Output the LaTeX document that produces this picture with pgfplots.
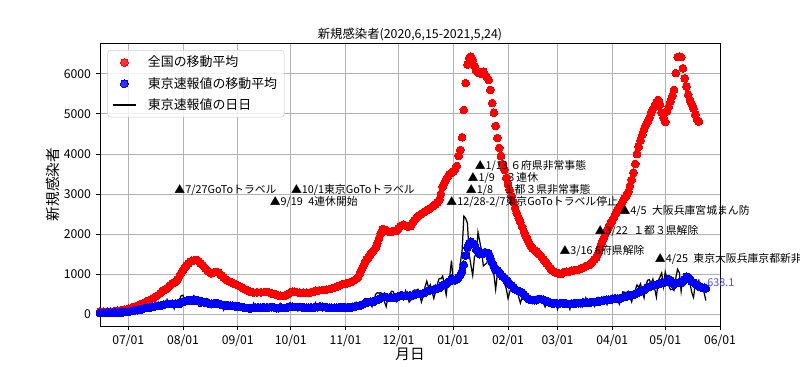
\documentclass[border=0pt]{standalone}
\usepackage{fontspec}
\setmainfont{Noto Sans CJK JP}
\usepackage{pgfplots}
\pgfplotsset{compat=1.18}
\begin{document}
\begin{tikzpicture}
\begin{axis}[
  name=ax,
  scale only axis,
  width=446.4pt, height=203.8pt,
  xmin=0, xmax=351, ymin=-300, ymax=6770,
  xtick={16,47,78,108,139,169,200,231,259,290,320,351},
  xticklabels={07/01,08/01,09/01,10/01,11/01,12/01,01/01,02/01,03/01,04/01,05/01,06/01},
  ytick={0,1000,2000,3000,4000,5000,6000},
  grid=major,
  grid style={color=black!30, line width=0.6pt},
  axis line style={black, line width=0.6pt},
  tick align=outside, xtick pos=bottom, ytick pos=left,
  major tick length=3pt,
  tick style={black, line width=0.6pt},
  tick label style={font=\fontsize{8.8}{10}\selectfont},
  /pgf/number format/assume math mode=true,
  /pgf/number format/1000 sep={},
  title={新規感染者(2020,6,15-2021,5,24)},
  title style={font=\fontsize{8.9}{10}\selectfont, yshift=-8pt},
  xlabel={月日}, ylabel={新規感染者},
  label style={font=\fontsize{10.5}{12}\selectfont},
  xlabel style={yshift=6pt},
  ylabel style={yshift=-4pt},
  legend style={at={(0.012,0.975)}, anchor=north west, draw=black!20, rounded corners=2pt,
    fill=white, fill opacity=0.8, text opacity=1, font=\fontsize{9.3}{11}\selectfont,
    cells={anchor=west}, inner xsep=3pt, inner ysep=2pt, row sep=2pt,
    /tikz/every odd column/.append style={column sep=6pt}},
]
\addplot[only marks, mark=*, mark size=2.8pt, color=red, mark options={fill=red, draw=red, line width=0pt}] coordinates {
(0,60)(2,60)(4,62)(6,66)(8,75)(10,88)(12,100)(14,112)(16,130)(18,155)(20,190)(22,225)(24,260)(26,305)(28,350)(30,400)(32,450)(34,520)(35,560)(36,590)(37,620)(38,650)(39,690)(40,730)(41,760)(42,785)(43,810)(44,870)(45,950)(46,1030)(47,1100)(48,1160)(49,1220)(50,1270)(51,1310)(52,1330)(53,1340)(54,1350)(55,1350)(56,1320)(57,1270)(58,1230)(59,1180)(60,1130)(61,1080)(62,1050)(63,1020)(64,1030)(65,1050)(66,1050)(67,1040)(68,1000)(69,960)(70,920)(71,880)(72,850)(73,820)(74,800)(75,780)(76,760)(77,740)(78,720)(79,700)(80,675)(81,650)(82,625)(83,600)(84,580)(85,560)(86,550)(87,540)(89,545)(91,545)(93,550)(95,550)(96,535)(97,520)(99,500)(100,480)(101,460)(102,455)(103,450)(104,450)(105,460)(106,490)(107,520)(108,545)(109,560)(110,555)(111,550)(113,530)(115,530)(117,530)(119,540)(121,560)(122,580)(124,590)(126,600)(128,610)(130,625)(131,640)(133,665)(134,680)(136,720)(137,740)(139,760)(140,770)(141,790)(142,800)(143,825)(144,850)(145,880)(146,920)(147,1000)(148,1100)(149,1200)(150,1300)(151,1360)(152,1420)(153,1490)(154,1550)(155,1600)(156,1650)(157,1770)(158,1900)(159,2020)(160,2120)(161,2110)(162,2100)(163,2070)(164,2050)(165,2060)(166,2070)(167,2075)(168,2080)(169,2140)(170,2200)(171,2220)(172,2230)(173,2210)(174,2190)(175,2190)(176,2200)(177,2280)(178,2350)(179,2400)(180,2450)(181,2480)(182,2500)(183,2530)(184,2560)(185,2590)(186,2620)(187,2650)(188,2680)(189,2710)(190,2740)(191,2790)(192,2850)(193,3000)(194,3180)(195,3280)(196,3380)(197,3440)(198,3500)(199,3530)(200,3560)(201,3620)(202,3700)(203,3950)(204,4100)(205,4420)(206,5100)(207,5770)(208,6230)(209,6400)(210,6430)(211,6350)(212,6200)(213,6080)(214,6030)(215,6020)(216,6000)(217,6060)(218,5980)(219,5920)(220,5850)(221,5600)(222,5270)(223,5030)(224,4700)(225,4400)(226,4150)(227,3950)(228,3750)(229,3600)(230,3400)(231,3250)(232,3100)(233,2950)(234,2800)(235,2650)(236,2520)(237,2400)(238,2300)(239,2180)(240,2060)(241,1960)(242,1860)(243,1770)(244,1700)(245,1640)(246,1600)(247,1560)(248,1520)(249,1480)(250,1430)(251,1370)(252,1320)(253,1260)(254,1200)(255,1140)(256,1090)(257,1060)(258,1040)(259,1020)(260,1010)(261,1000)(262,1030)(263,1050)(264,1060)(265,1050)(266,1070)(267,1080)(268,1090)(269,1100)(270,1100)(271,1110)(272,1130)(273,1150)(274,1170)(275,1190)(276,1210)(277,1230)(278,1270)(279,1320)(280,1370)(281,1420)(282,1520)(283,1650)(284,1760)(285,1880)(286,2000)(287,2090)(288,2170)(289,2260)(290,2340)(291,2420)(292,2510)(293,2600)(294,2680)(295,2750)(296,2820)(297,2900)(298,2960)(299,3050)(300,3200)(301,3350)(302,3530)(303,3750)(304,4000)(305,4180)(306,4340)(307,4480)(308,4620)(309,4720)(310,4800)(311,4900)(312,5030)(313,5120)(314,5180)(315,5280)(316,5350)(317,5230)(318,5030)(319,4900)(320,4800)(321,5060)(322,5180)(323,5310)(324,5450)(325,5600)(326,6020)(327,6420)(328,6430)(329,6420)(330,6140)(331,5890)(332,5680)(333,5480)(334,5350)(335,5250)(336,5140)(337,4980)(338,4850)(339,4810)
};
\addlegendentry{全国の移動平均}
\addplot[only marks, mark=*, mark size=2.8pt, color=blue, mark options={fill=blue, draw=blue, line width=0pt}] coordinates {
(0,28)(1,29)(2,28)(3,30)(4,31)(5,33)(6,34)(7,32)(8,32)(9,38)(10,39)(11,42)(12,44)(13,48)(14,52)(15,55)(16,57)(17,65)(18,75)(19,86)(20,93)(21,99)(22,107)(23,108)(24,125)(25,142)(26,152)(27,166)(28,168)(29,174)(30,187)(31,195)(32,203)(33,215)(34,212)(35,219)(36,232)(37,243)(38,254)(39,250)(40,250)(41,258)(42,252)(43,256)(44,258)(45,258)(46,287)(47,313)(48,320)(49,338)(50,344)(51,346)(52,345)(53,345)(54,339)(55,345)(56,336)(57,319)(58,313)(59,291)(60,280)(61,274)(62,264)(63,259)(64,261)(65,256)(66,275)(67,257)(68,238)(69,231)(70,222)(71,218)(72,225)(73,213)(74,208)(75,207)(76,198)(77,198)(78,197)(79,183)(80,178)(81,165)(82,155)(83,151)(84,147)(85,147)(86,149)(87,158)(88,165)(89,160)(90,164)(91,165)(92,168)(93,170)(94,155)(95,160)(96,170)(97,173)(98,175)(99,160)(100,146)(101,149)(102,156)(103,156)(104,154)(105,151)(106,165)(107,185)(108,190)(109,180)(110,179)(111,178)(112,178)(113,176)(114,174)(115,162)(116,160)(117,157)(118,157)(119,157)(120,155)(121,155)(122,174)(123,174)(124,182)(125,180)(126,180)(127,176)(128,172)(129,158)(130,158)(131,155)(132,154)(133,157)(134,160)(135,163)(136,168)(137,170)(138,170)(139,169)(140,167)(141,174)(142,167)(143,174)(144,180)(145,191)(146,202)(147,212)(148,224)(149,252)(150,269)(151,288)(152,296)(153,306)(154,309)(155,310)(156,335)(157,355)(158,376)(159,403)(160,422)(161,442)(162,426)(163,412)(164,405)(165,412)(166,415)(167,419)(168,418)(169,445)(170,459)(171,466)(172,449)(173,452)(174,461)(175,460)(176,457)(177,467)(178,477)(179,498)(180,503)(181,503)(182,504)(183,519)(184,534)(185,566)(186,576)(187,592)(188,603)(189,615)(190,630)(191,640)(192,650)(193,681)(194,711)(195,733)(196,746)(197,788)(198,816)(199,880)(200,865)(201,846)(202,862)(203,919)(204,979)(205,1072)(206,1230)(207,1460)(208,1668)(209,1765)(210,1813)(211,1769)(212,1746)(213,1611)(214,1561)(215,1496)(216,1510)(217,1508)(218,1546)(219,1524)(220,1519)(221,1395)(222,1289)(223,1203)(224,1119)(225,1089)(226,1046)(227,987)(228,944)(229,901)(230,850)(231,818)(232,751)(233,708)(234,661)(235,620)(236,601)(237,572)(238,555)(239,535)(240,500)(241,439)(242,401)(243,362)(244,354)(245,352)(246,347)(247,349)(248,369)(249,375)(250,369)(251,355)(252,343)(253,328)(254,295)(255,280)(256,268)(257,269)(258,277)(259,269)(260,263)(261,278)(262,269)(263,274)(264,267)(265,254)(266,253)(267,262)(268,265)(269,273)(270,274)(271,273)(272,273)(273,282)(274,283)(275,293)(276,291)(277,291)(278,299)(279,301)(280,303)(281,308)(282,310)(283,320)(284,330)(285,343)(286,351)(287,358)(288,362)(289,361)(290,372)(291,381)(292,384)(293,390)(294,392)(295,397)(296,417)(297,427)(298,441)(299,459)(300,468)(301,476)(302,492)(303,497)(304,523)(305,542)(306,569)(307,586)(308,601)(309,629)(310,665)(311,684)(312,697)(313,714)(314,727)(315,730)(316,747)(317,758)(318,782)(319,773)(320,798)(321,833)(322,874)(323,842)(324,799)(325,737)(326,766)(327,777)(328,798)(329,779)(330,824)(331,874)(332,934)(333,926)(334,876)(335,806)(336,784)(337,757)(338,728)(339,704)(340,670)(341,656)(342,655)(343,644)
};
\addlegendentry{東京速報値の移動平均}
\addplot[black, line width=0.9pt, no marks] coordinates {
(0,48)(1,27)(2,16)(3,41)(4,35)(5,39)(6,35)(7,29)(8,31)(9,55)(10,48)(11,54)(12,57)(13,60)(14,58)(15,54)(16,67)(17,107)(18,124)(19,131)(20,111)(21,102)(22,106)(23,75)(24,224)(25,243)(26,206)(27,206)(28,119)(29,143)(30,165)(31,286)(32,293)(33,290)(34,188)(35,168)(36,237)(37,238)(38,366)(39,260)(40,295)(41,239)(42,131)(43,266)(44,250)(45,367)(46,463)(47,472)(48,292)(49,258)(50,309)(51,263)(52,360)(53,462)(54,429)(55,331)(56,197)(57,188)(58,222)(59,206)(60,389)(61,385)(62,260)(63,161)(64,207)(65,186)(66,339)(67,258)(68,256)(69,212)(70,95)(71,182)(72,236)(73,250)(74,226)(75,247)(76,148)(77,100)(78,170)(79,141)(80,211)(81,136)(82,181)(83,116)(84,77)(85,170)(86,149)(87,276)(88,187)(89,146)(90,146)(91,80)(92,191)(93,163)(94,171)(95,220)(96,218)(97,165)(98,98)(99,88)(100,59)(101,195)(102,270)(103,215)(104,150)(105,78)(106,191)(107,194)(108,235)(109,196)(110,207)(111,143)(112,78)(113,180)(114,177)(115,150)(116,187)(117,183)(118,146)(119,78)(120,166)(121,177)(122,284)(123,185)(124,235)(125,132)(126,78)(127,139)(128,150)(129,186)(130,186)(131,214)(132,124)(133,102)(134,158)(135,171)(136,221)(137,200)(138,215)(139,116)(140,87)(141,209)(142,122)(143,269)(144,242)(145,294)(146,189)(147,157)(148,293)(149,317)(150,393)(151,374)(152,352)(153,255)(154,180)(155,298)(156,493)(157,534)(158,522)(159,539)(160,391)(161,314)(162,186)(163,401)(164,481)(165,570)(166,561)(167,418)(168,311)(169,372)(170,500)(171,533)(172,449)(173,584)(174,480)(175,299)(176,352)(177,572)(178,602)(179,595)(180,621)(181,480)(182,305)(183,460)(184,678)(185,822)(186,664)(187,736)(188,556)(189,392)(190,563)(191,748)(192,888)(193,884)(194,949)(195,708)(196,481)(197,856)(198,944)(199,1337)(200,783)(201,814)(202,816)(203,884)(204,1278)(205,1591)(206,2447)(207,2392)(208,2268)(209,1494)(210,1219)(211,970)(212,1433)(213,1502)(214,2044)(215,1809)(216,1592)(217,1204)(218,1240)(219,1274)(220,1471)(221,1175)(222,1070)(223,986)(224,618)(225,1026)(226,973)(227,1064)(228,868)(229,769)(230,633)(231,393)(232,556)(233,676)(234,734)(235,577)(236,639)(237,429)(238,276)(239,412)(240,434)(241,307)(242,307)(243,369)(244,371)(245,266)(246,378)(247,445)(248,445)(249,353)(250,327)(251,272)(252,178)(253,275)(254,213)(255,340)(256,270)(257,337)(258,329)(259,121)(260,232)(261,316)(262,279)(263,301)(264,293)(265,237)(266,116)(267,290)(268,340)(269,335)(270,304)(271,289)(272,239)(273,175)(274,300)(275,409)(276,323)(277,303)(278,342)(279,256)(280,187)(281,337)(282,420)(283,394)(284,376)(285,430)(286,313)(287,234)(288,364)(289,414)(290,475)(291,440)(292,446)(293,355)(294,249)(295,399)(296,555)(297,545)(298,537)(299,570)(300,421)(301,306)(302,510)(303,591)(304,729)(305,667)(306,759)(307,543)(308,405)(309,711)(310,843)(311,861)(312,759)(313,876)(314,635)(315,425)(316,828)(317,925)(318,1027)(319,698)(320,1050)(321,879)(322,708)(323,609)(324,621)(325,591)(326,907)(327,1121)(328,1032)(329,573)(330,925)(331,969)(332,1010)(333,854)(334,772)(335,542)(336,419)(337,732)(338,766)(339,843)(340,614)(341,675)(342,535)(343,340)
};
\addlegendentry{東京速報値の日日}
\coordinate (a1) at (axis cs:42,3000);
\coordinate (a2) at (axis cs:108,3000);
\coordinate (a3) at (axis cs:96,2700);
\coordinate (a4) at (axis cs:196,2700);
\coordinate (a5) at (axis cs:207,3000);
\coordinate (a6) at (axis cs:208,3300);
\coordinate (a7) at (axis cs:212,3600);
\coordinate (a8) at (axis cs:260,1500);
\coordinate (a9) at (axis cs:280,2000);
\coordinate (a10) at (axis cs:294,2500);
\coordinate (a11) at (axis cs:314,1300);
\coordinate (lab) at (axis cs:343.7,680);
\end{axis}
\begin{scope}[every node/.style={anchor=base west, inner sep=0pt, font=\fontsize{7.8}{9}\selectfont}]
\node at (a1) {▲7/27GoToトラベル};
\node at (a2) {▲10/1東京GoToトラベル};
\node at (a3) {▲9/19\hspace{0.5em}4連休開始};
\node at (a4) {▲12/28-2/7東京GoToトラベル停止};
\node at (a5) {▲1/8　１都３県非常事態};
\node at (a6) {▲1/9　３連休};
\node at (a7) {▲1/13 ６府県非常事態};
\node at (a8) {▲3/16 6府県解除};
\node at (a9) {▲3/22\hspace{0.5em}１都３県解除};
\node at (a10) {▲4/5\hspace{0.5em}大阪兵庫宮城まん防};
\node at (a11) {▲4/25\hspace{0.5em}東京大阪兵庫京都新非常事態};
\node[text=blue!70!white] at (lab) {638.1};
\end{scope}
\pgfresetboundingbox
\path[use as bounding box] ([xshift=-72pt,yshift=-28.8pt]ax.south west) rectangle ([xshift=57.6pt,yshift=31pt]ax.north east);
\end{tikzpicture}
\end{document}
